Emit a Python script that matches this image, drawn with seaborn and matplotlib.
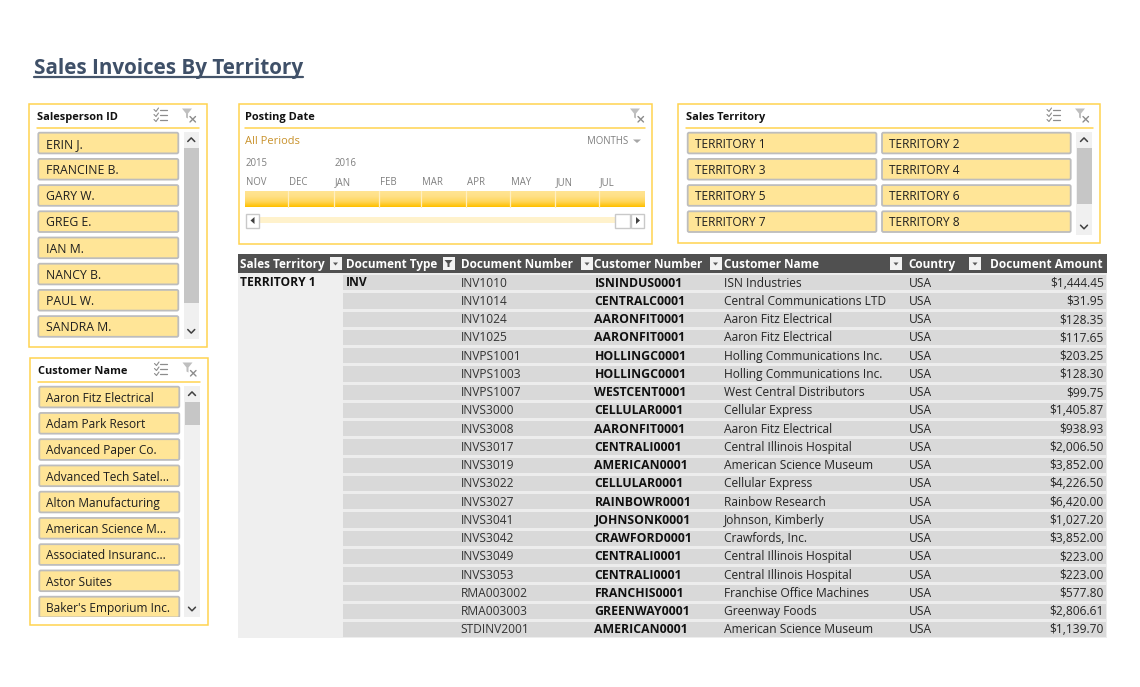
"""
Sales Invoices By Territory : tableau de bord (slicers + table).
"""
import numpy as np
import pandas as pd
import matplotlib
matplotlib.use("Agg")
import matplotlib.pyplot as plt
from matplotlib.patches import Rectangle, FancyBboxPatch, Polygon
from matplotlib.colors import ListedColormap, LinearSegmentedColormap
import seaborn as sns

sales_people = ["ERIN J.", "FRANCINE B.", "GARY W.", "GREG E.", "IAN M.",
                "NANCY B.", "PAUL W.", "SANDRA M."]
customers = ["Aaron Fitz Electrical", "Adam Park Resort", "Advanced Paper Co.",
             "Advanced Tech Satel...", "Alton Manufacturing", "American Science M...",
             "Associated Insuranc...", "Astor Suites", "Baker's Emporium Inc."]
territories = ["TERRITORY 1", "TERRITORY 2", "TERRITORY 3", "TERRITORY 4",
               "TERRITORY 5", "TERRITORY 6", "TERRITORY 7", "TERRITORY 8"]
months = ["NOV", "DEC", "JAN", "FEB", "MAR", "APR", "MAY", "JUN", "JUL"]
years = ["2015", "2016"]

headers = ["Sales Territory", "Document Type", "Document Number", "Customer Number",
           "Customer Name", "Country", "Document Amount"]
doc_numbers = ["INV1010", "INV1014", "INV1024", "INV1025", "INVPS1001", "INVPS1003",
               "INVPS1007", "INVS3000", "INVS3008", "INVS3017", "INVS3019", "INVS3022",
               "INVS3027", "INVS3041", "INVS3042", "INVS3049", "INVS3053", "RMA003002",
               "RMA003003", "STDINV2001"]
cust_numbers = ["ISNINDUS0001", "CENTRALC0001", "AARONFIT0001", "AARONFIT0001",
                "HOLLINGC0001", "HOLLINGC0001", "WESTCENT0001", "CELLULAR0001",
                "AARONFIT0001", "CENTRALI0001", "AMERICAN0001", "CELLULAR0001",
                "RAINBOWR0001", "JOHNSONK0001", "CRAWFORD0001", "CENTRALI0001",
                "CENTRALI0001", "FRANCHIS0001", "GREENWAY0001", "AMERICAN0001"]
cust_names = ["ISN Industries", "Central Communications LTD", "Aaron Fitz Electrical",
              "Aaron Fitz Electrical", "Holling Communications Inc.",
              "Holling Communications Inc.", "West Central Distributors", "Cellular Express",
              "Aaron Fitz Electrical", "Central Illinois Hospital", "American Science Museum",
              "Cellular Express", "Rainbow Research", "Johnson, Kimberly", "Crawfords, Inc.",
              "Central Illinois Hospital", "Central Illinois Hospital",
              "Franchise Office Machines", "Greenway Foods", "American Science Museum"]
amounts = [1444.45, 31.95, 128.35, 117.65, 203.25, 128.30, 99.75, 1405.87, 938.93,
           2006.50, 3852.00, 4226.50, 6420.00, 1027.20, 3852.00, 223.00, 223.00,
           577.80, 2806.61, 1139.70]

W, H = 1140, 687
YELLOW = "#FFD34F"
BTN = "#FFE597"
BTN_EDGE = "#BDBDBD"
TXT = "#1F1F1F"
FONT = "Open Sans"

sns.set_theme(style="white")
plt.rcParams["font.family"] = [FONT, "DejaVu Sans"]

fig = plt.figure(figsize=(W / 100, H / 100), dpi=100, facecolor="white")
ax = fig.add_axes([0, 0, 1, 1])
ax.set_xlim(0, W)
ax.set_ylim(H, 0)
ax.axis("off")


def px(size):
    return size * 0.72


def rect(x0, y0, x1, y1, **kw):
    kw.setdefault("linewidth", 0)
    ax.add_patch(Rectangle((x0, y0), x1 - x0, y1 - y0, **kw))


def label(x, y, s, size=12, color=TXT, weight="normal", ha="left"):
    return ax.text(x, y - 0.6, s, fontsize=px(size), color=color, fontweight=weight,
                   ha=ha, va="center_baseline")


def button(x0, y0, x1, y1, s, size=11.9):
    ax.add_patch(FancyBboxPatch((x0 + 1, y0 + 1), x1 - x0 - 2, y1 - y0 - 2,
                                boxstyle="round,pad=0,rounding_size=1.5",
                                fc=BTN, ec=BTN_EDGE, lw=1.3))
    label(x0 + 8.2, (y0 + y1) / 2 + 0.4, s, size=size)


def icon_multi(x, y):
    for dy in (-5, 0, 5):
        ax.plot([x - 1, x + 6], [y + dy, y + dy], color="#8C8C8C", lw=0.9)
        ax.plot([x - 6.5, x - 4.5, x - 2], [y + dy - 0.5, y + dy + 1.5, y + dy - 2],
                color="#8C8C8C", lw=0.8)


def icon_clear(x, y):
    ax.add_patch(Polygon([(x - 7, y - 7), (x + 3, y - 7), (x - 1, y - 2), (x - 1, y + 3),
                          (x - 3, y + 2), (x - 3, y - 2)], fc="#BFBFBF", lw=0))
    ax.plot([x + 1, x + 6.5], [y + 1, y + 6.5], color="#8C8C8C", lw=1)
    ax.plot([x + 1, x + 6.5], [y + 6.5, y + 1], color="#8C8C8C", lw=1)


def chevron(x, y, up=True):
    d = -1.8 if up else 1.8
    ax.plot([x - 3.5, x, x + 3.5], [y - d, y + d, y - d], color="#404040", lw=1.1)


def panel(x0, y0, x1, y1, title, title_x, line_end, multi=None, clear=None):
    rect(x0, y0, x1, y1, fc="white", ec=YELLOW, linewidth=1.1)
    label(title_x, y0 + 12.9, title, size=11, color="#111111", weight="bold")
    ax.plot([title_x, line_end], [y0 + 24, y0 + 24], color=YELLOW, lw=1.1)
    if multi:
        icon_multi(multi, y0 + 11.5)
    icon_clear(clear, y0 + 12)


def scrollbar(x0, y0, x1, y1, t0, t1):
    rect(x0, y0, x1, y1, fc="#F0F0F0")
    rect(x0 + 0.5, t0, x1 - 0.5, t1, fc="#C6C6C6")
    chevron((x0 + x1) / 2, y0 + 8, up=True)
    chevron((x0 + x1) / 2, y1 - 8, up=False)


# titre
ax.text(34, 65.6, "Sales Invoices By Territory", fontsize=px(20.65), fontweight="bold",
        color="#3F5068", ha="left", va="center_baseline")
ax.plot([34, 303], [76.5, 76.5], color="#44546A", lw=1.6)

# slicer vendeurs
panel(29.3, 103.5, 207.2, 347, "Salesperson ID", 37, 199, multi=160.5, clear=189)
for i, name in enumerate(sales_people):
    y0 = 131.7 + i * 26.2
    button(37.3, y0, 179.3, y0 + 22.7, name, size=12.3)
scrollbar(183.5, 131.7, 199, 339.3, 148.3, 302.7)

# slicer clients (dernier bouton coupe par le bas du cadre)
panel(30.3, 357.5, 208.2, 625, "Customer Name", 38, 200, multi=161, clear=189.5)
for i, name in enumerate(customers):
    y0 = 385.7 + i * 26.25
    button(38.3, y0, 180.3, y0 + 22.7, name)
rect(36, 617, 182, 623.5, fc="white")
scrollbar(184, 385.7, 200, 617, 402.3, 424.7)

# slicer territoires
panel(678.3, 103.5, 1100.3, 242.7, "Sales Territory", 685.7, 1093, multi=1053.5, clear=1082)
for i, name in enumerate(territories):
    col, row = i % 2, i // 2
    x0 = 686.7 + col * 194.3
    y0 = 131.7 + row * 26.2
    button(x0, y0, x0 + 190.7, y0 + 22.7, name)
scrollbar(1076, 131.7, 1092, 235, 148.3, 203.7)

# chronologie
panel(238.5, 103.5, 652, 244, "Posting Date", 245.2, 645, clear=637)
label(245.3, 140.3, "All Periods", size=11, color="#C8912A")
label(628, 141, "MONTHS", size=9.7, color="#7F7F7F", ha="right")
ax.add_patch(Polygon([(633, 139.5), (641, 139.5), (637, 143)], fc="#A6A6A6", lw=0))
month_x = [245.8, 289.5, 334.5, 379.8, 422.2, 467.2, 511.2, 556.2, 599.8]
for x, m in zip(month_x, months):
    label(x, 182, m, size=9.7, color="#7F7F7F")
for x, yr in zip([month_x[0], month_x[2]], years):
    label(x, 162.5, yr, size=9.7, color="#7F7F7F")
grad = LinearSegmentedColormap.from_list("grad", ["#FFE493", "#FFE085", "#FFD659", "#FFC000"])
ax.imshow(np.linspace(0, 1, 32)[:, None], cmap=grad, extent=(245, 644.3, 206.7, 191),
          aspect="auto", zorder=2)
for x in [288.3, 334, 379, 421.3, 466.3, 510.3, 555.3, 599.3]:
    ax.plot([x, x], [191, 206.7], color="#FFEFC0", lw=0.9, zorder=3)
ax.set_xlim(0, W)
ax.set_ylim(H, 0)
rect(259, 217, 615, 223.3, fc="#FFF2CC")
for x0, x1 in [(245.7, 259), (615, 630), (631, 644.3)]:
    rect(x0, 213.5, x1, 227.5, fc="white", ec="#C9C9C9", linewidth=1)
ax.add_patch(Polygon([(254.5, 217), (254.5, 224), (250.5, 220.5)], fc="#404040", lw=0))
ax.add_patch(Polygon([(636, 217), (636, 224), (640, 220.5)], fc="#404040", lw=0))

# table : fond des lignes via heatmap
table = pd.DataFrame({"doc": doc_numbers, "cust": cust_numbers, "name": cust_names,
                      "amount": amounts})
n_rows = len(table)
row_h = 18.25
top = 273
ax_body = fig.add_axes([341 / W, 1 - (top + n_rows * row_h) / H, (1107 - 341) / W,
                        n_rows * row_h / H], zorder=0)
sns.heatmap(np.zeros((n_rows, 1)), ax=ax_body, cbar=False, cmap=ListedColormap(["#D9D9D9"]),
            linewidths=0.9, linecolor="#EDEDED", xticklabels=False, yticklabels=False)
ax.set_zorder(1)
ax.patch.set_visible(False)
rect(238, top, 343, top + n_rows * row_h, fc="#EFEFEF")

rect(238, 254, 1107, 273, fc="#505050")
header_x = [240, 346.5, 461, 594.5, 724, 908.5]
for x, h in zip(header_x, headers[:-1]):
    label(x, 263.8, h, size=11.8, color="white", weight="bold")
label(1102.5, 263.8, headers[-1], size=11.9, color="white", weight="bold", ha="right")
for x0, filtered in [(329.5, False), (442.5, True), (581, False), (709.5, False),
                     (890, False), (969, False)]:
    rect(x0, 256.7, x0 + 12, 270, fc="#F2F2F2")
    xc = x0 + 6
    if filtered:
        ax.add_patch(Polygon([(xc - 4, 260), (xc + 4, 260), (xc + 1, 263.5), (xc + 1, 267),
                              (xc - 1, 267), (xc - 1, 263.5)], fc="#505050", lw=0))
    else:
        ax.add_patch(Polygon([(xc - 2.5, 262.5), (xc + 2.5, 262.5), (xc, 265.5)],
                             fc="#595959", lw=0))

label(240, 282.1, "TERRITORY 1", size=12, color="#111111", weight="bold")
label(346, 282.1, "INV", size=12, color="#111111", weight="bold")
for i, row in table.iterrows():
    y = top + (i + 0.5) * row_h
    label(460.6, y, row["doc"], size=12, color="#333333")
    label(594.5, y, row["cust"], size=12.2, color="#111111", weight="bold")
    label(724, y, row["name"], size=12, color="#262626")
    label(908.5, y, "USA", size=12, color="#262626")
    label(1104, y, f"${row['amount']:,.2f}", size=12, color="#262626", ha="right")

fig.savefig("out.png", dpi=100, facecolor="white")
plt.close()
